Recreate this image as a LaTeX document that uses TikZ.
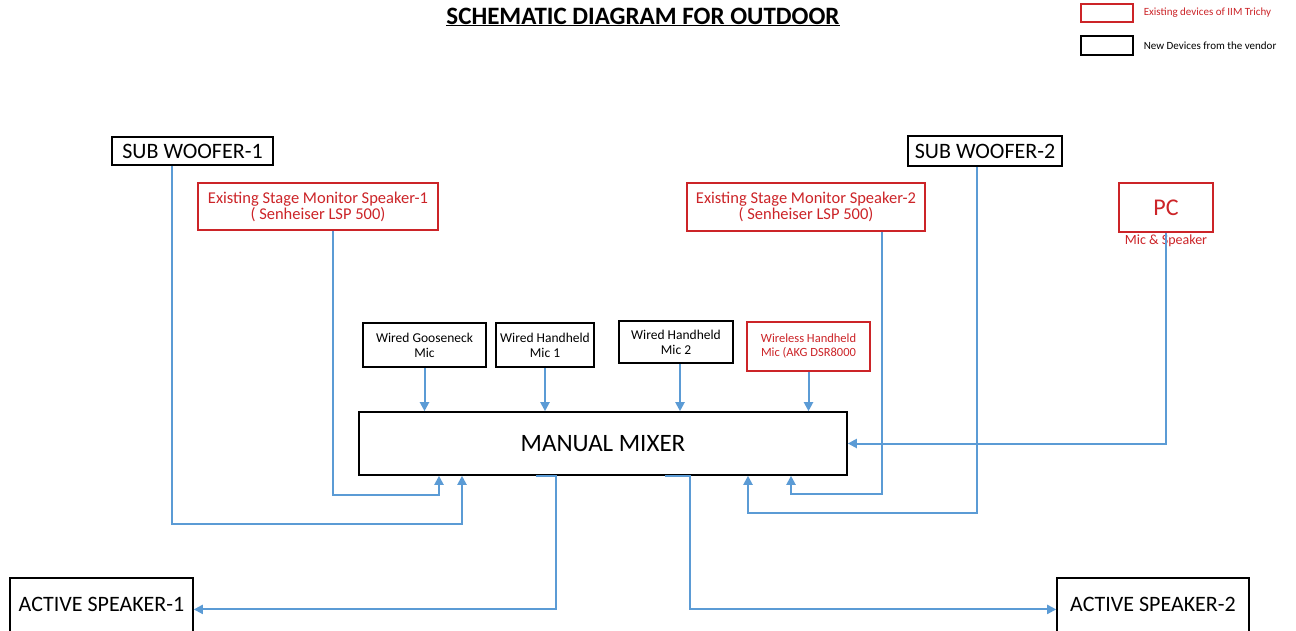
\documentclass[tikz,border=0pt]{standalone}
\usepackage{fontspec}
\setmainfont{Carlito}
\usetikzlibrary{arrows.meta,positioning}
\definecolor{oldred}{RGB}{204,36,40}
\definecolor{wire}{RGB}{91,155,213}
\tikzset{newdev/.style={draw=black,line width=1.6pt,inner sep=0pt,align=center}}
\tikzset{olddev/.style={draw=oldred,line width=1.6pt,inner sep=0pt,align=center,text=oldred}}
\tikzset{link/.style={draw=wire,line width=2pt,-{Triangle[length=9pt,width=9pt]}}}

\begin{document}
\begin{tikzpicture}[x=1pt,y=-1pt]
	\clip (0,0) rectangle (1296,631);
	\fill[white] (0,0) rectangle (1296,631);
	
	\node[font=\fontsize{25}{28}\selectfont\bfseries] (title) at (643,17) {\underline{SCHEMATIC DIAGRAM FOR OUTDOOR}};
	
	% legend
	\node[olddev,line width=1.2pt,minimum width=52,minimum height=18] (keyold) at (1107,13) {};
	\node[newdev,line width=1.2pt,minimum width=52,minimum height=19] (keynew) at (1107,45.5) {};
	\node[right=10pt of keyold,text=oldred,inner sep=0pt,font=\fontsize{11}{12}\selectfont] (keyoldtxt) {Existing devices of IIM Trichy};
	\node[right=10pt of keynew,inner sep=0pt,font=\fontsize{11}{12}\selectfont] (keynewtxt) {New Devices from the vendor};
	
	% speakers on top
	\node[newdev,minimum width=161,minimum height=28,font=\fontsize{22}{24}\selectfont] (sw1) at (192.5,151) {SUB WOOFER-1};
	\node[newdev,minimum width=154,minimum height=30,font=\fontsize{22}{24}\selectfont] (sw2) at (985,151) {SUB WOOFER-2};
	\node[olddev,minimum width=240,minimum height=47,font=\fontsize{16.5}{16}\selectfont] (mon1) at (318,206.5) {Existing Stage Monitor Speaker-1\\( Senheiser LSP 500)};
	\node[olddev,minimum width=238,minimum height=48,font=\fontsize{16.5}{16}\selectfont] (mon2) at (806,207) {Existing Stage Monitor Speaker-2\\( Senheiser LSP 500)};
	\node[olddev,minimum width=94,minimum height=49,font=\fontsize{24}{26}\selectfont] (pc) at (1166,207.5) {PC};
	\node[below=2pt of pc,text=oldred,inner sep=0pt,font=\fontsize{14}{15}\selectfont] (pctxt) {Mic \& Speaker};
	
	% microphones
	\node[newdev,minimum width=123,minimum height=44,font=\fontsize{13.5}{15}\selectfont] (goose) at (424.5,345) {Wired Gooseneck\\Mic};
	\node[newdev,minimum width=98,minimum height=44,font=\fontsize{13.5}{15}\selectfont] (hh1) at (545,345) {Wired Handheld\\Mic 1};
	\node[newdev,minimum width=114,minimum height=42,font=\fontsize{13.5}{15}\selectfont] (hh2) at (676,342) {Wired Handheld\\Mic 2};
	\node[olddev,minimum width=123,minimum height=49,font=\fontsize{12.5}{14}\selectfont] (wl) at (808.5,346.5) {Wireless Handheld\\Mic (AKG DSR8000};
	
	\node[newdev,minimum width=488,minimum height=63,font=\fontsize{25}{28}\selectfont] (mixer) at (603,443.5) {MANUAL MIXER};
	
	\node[newdev,anchor=north,minimum width=183,inner ysep=19pt,text height=15pt,text depth=40pt,font=\fontsize{22}{24}\selectfont] (as1) at (101.5,577) {ACTIVE SPEAKER-1};
	\node[newdev,anchor=north,minimum width=192,inner ysep=19pt,text height=15pt,text depth=40pt,font=\fontsize{22}{24}\selectfont] (as2) at (1153,577) {ACTIVE SPEAKER-2};
	
	% mics into the mixer
	\draw[link] (goose.south) -- (goose.south |- mixer.north);
	\draw[link] (hh1.south) -- (hh1.south |- mixer.north);
	\draw[link] ([xshift=4pt]hh2.south) -- ([xshift=4pt]hh2.south |- mixer.north);
	\draw[link] (wl.south) -- (wl.south |- mixer.north);
	
	% returns from below
	\draw[link] ([xshift=-20.5pt]sw1.south) |- ([xshift=-141pt,yshift=-48pt]mixer.south) -- ([xshift=-141pt]mixer.south);
	\draw[link] ([xshift=15pt]mon1.south) |- ([xshift=-164pt,yshift=-19pt]mixer.south) -- ([xshift=-164pt]mixer.south);
	\draw[link] ([xshift=76pt]mon2.south) |- ([xshift=188pt,yshift=-18pt]mixer.south) -- ([xshift=188pt]mixer.south);
	\draw[link] ([xshift=-8pt]sw2.south) |- ([xshift=145pt,yshift=-37pt]mixer.south) -- ([xshift=145pt]mixer.south);
	\draw[link] (pc.south) |- (mixer.east);
	
	% outputs
	\draw[link] ([xshift=-67pt]mixer.south) -- ([xshift=-47pt]mixer.south) |- (as1.mid east);
	\draw[link] ([xshift=62pt]mixer.south) -- ([xshift=87pt]mixer.south) |- (as2.mid west);
\end{tikzpicture}
\end{document}
